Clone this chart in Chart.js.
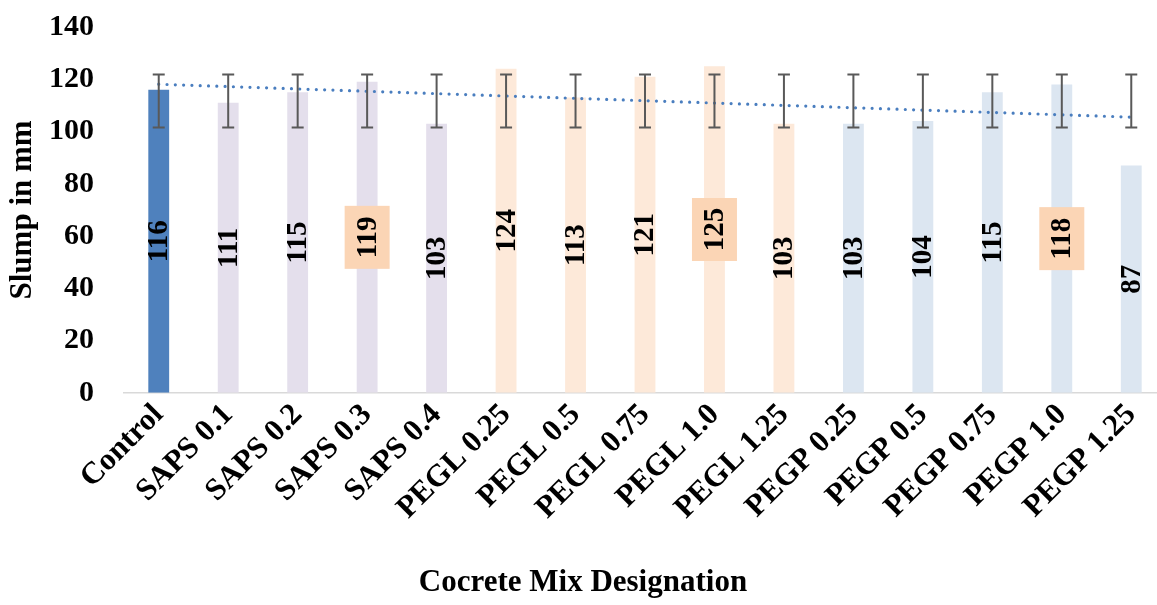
<!DOCTYPE html>
<html>
<head>
<meta charset="utf-8">
<script src="https://cdn.jsdelivr.net/npm/chart.js@4/dist/chart.umd.min.js"></script>
<style>
  html, body { margin: 0; padding: 0; background: #fff; overflow: hidden; }
  #chart-box { width: 1166px; height: 605px; }
</style>
</head>
<body>
<div id="chart-box"><canvas id="slump-chart"></canvas></div>
<script>
// values
const categories = [
  "Control", "SAPS 0.1", "SAPS 0.2", "SAPS 0.3", "SAPS 0.4",
  "PEGL 0.25", "PEGL 0.5", "PEGL 0.75", "PEGL 1.0", "PEGL 1.25",
  "PEGP 0.25", "PEGP 0.5", "PEGP 0.75", "PEGP 1.0", "PEGP 1.25",
];
const slump = [116, 111, 115, 119, 103, 124, 113, 121, 125, 103, 103, 104, 115, 118, 87];
const errLow = [101.5, 101.5, 101.5, 101.5, 101.5, 101.5, 101.5, 101.5, 101.5, 101.5, 101.5, 101.5, 101.5, 101.5, 101.5];
const errHigh = [121.8, 121.8, 121.8, 121.8, 121.8, 121.8, 121.8, 121.8, 121.8, 121.8, 121.8, 121.8, 121.8, 121.8, 121.8];
const trendStart = 118.1;
const trendEnd = 105.5;
const yTicks = [0, 20, 40, 60, 80, 100, 120, 140];

// styling
const FONT = "'Liberation Serif', 'Times New Roman', serif";
const highlighted = [3, 8, 13];

function barColor(label) {
  if (label === "Control") return "#4F81BD";
  if (label.startsWith("SAPS")) return "#E4DFEC";
  if (label.startsWith("PEGL")) return "#FDE9D9";
  return "#DCE6F1";
}

const trendData = categories.map((c, i) => {
  if (i === 0) return trendStart;
  if (i === categories.length - 1) return trendEnd;
  return null;
});

const errorBars = {
  id: "errorBars",
  afterDatasetsDraw(chart) {
    const ctx = chart.ctx;
    const y = chart.scales.y;
    const meta = chart.getDatasetMeta(1);
    ctx.save();
    ctx.strokeStyle = "#595959";
    ctx.lineWidth = 2;
    meta.data.forEach((bar, i) => {
      const top = y.getPixelForValue(errHigh[i]);
      const bot = y.getPixelForValue(errLow[i]);
      ctx.beginPath();
      ctx.moveTo(bar.x, top);
      ctx.lineTo(bar.x, bot);
      ctx.moveTo(bar.x - 6, top);
      ctx.lineTo(bar.x + 6, top);
      ctx.moveTo(bar.x - 6, bot);
      ctx.lineTo(bar.x + 6, bot);
      ctx.stroke();
    });
    ctx.restore();
  },
};

const barLabels = {
  id: "barLabels",
  afterDraw(chart) {
    const ctx = chart.ctx;
    const y = chart.scales.y;
    const meta = chart.getDatasetMeta(1);
    ctx.save();
    ctx.font = "bold 29px " + FONT;
    meta.data.forEach((bar, i) => {
      const cy = y.getPixelForValue(slump[i] / 2);
      if (highlighted.includes(i)) {
        ctx.fillStyle = "#FBD5B5";
        ctx.fillRect(bar.x - 22.5, cy - 31.5, 45, 63);
      }
      ctx.save();
      ctx.translate(bar.x + 1, cy);
      ctx.rotate(-Math.PI / 2);
      ctx.fillStyle = "#000";
      ctx.textAlign = "center";
      ctx.textBaseline = "middle";
      ctx.fillText(String(slump[i]), 0, 0);
      ctx.restore();
    });
    ctx.restore();
  },
};

const ctx = document.getElementById("slump-chart").getContext("2d");
new Chart(ctx, {
  type: "bar",
  data: {
    labels: categories,
    datasets: [
      {
        type: "line",
        label: "Linear trend",
        data: trendData,
        spanGaps: true,
        borderColor: "#4A7EBF",
        borderWidth: 3.2,
        borderDash: [0, 8.3],
        borderCapStyle: "round",
        pointRadius: 0,
        fill: false,
        order: 0,
      },
      {
        type: "bar",
        label: "Slump",
        data: slump,
        backgroundColor: categories.map(barColor),
        barPercentage: 0.3,
        categoryPercentage: 1,
        order: 1,
      },
    ],
  },
  options: {
    responsive: true,
    maintainAspectRatio: false,
    animation: false,
    layout: { padding: { top: 27, left: 0, right: 0, bottom: 0 } },
    plugins: {
      legend: { display: false },
      tooltip: { enabled: false },
      title: {
        display: true,
        position: "bottom",
        text: "Cocrete Mix Designation",
        color: "#000",
        font: { family: FONT, size: 31, weight: "bold" },
        padding: { top: 0, bottom: 3 },
      },
    },
    scales: {
      x: {
        afterFit: (axis) => {
          axis.height = 172;
          axis.paddingLeft = 0;
          axis.paddingRight = 0;
        },
        grid: { display: false, drawTicks: false },
        border: { display: true, color: "#D9D9D9", width: 1.5 },
        ticks: {
          color: "#000",
          font: { family: FONT, size: 31, weight: "bold" },
          minRotation: 45,
          maxRotation: 45,
          padding: 4,
          autoSkip: false,
        },
      },
      y: {
        min: 0,
        max: 140,
        afterBuildTicks: (axis) => {
          axis.ticks = yTicks.map(v => ({ value: v }));
        },
        afterFit: (axis) => {
          axis.width = 124;
          axis.paddingTop = 0;
          axis.paddingBottom = 0;
        },
        grid: { display: false, drawTicks: false },
        border: { display: false },
        ticks: {
          color: "#000",
          font: { family: FONT, size: 30, weight: "bold" },
          padding: 30,
        },
        title: {
          display: true,
          text: "Slump in mm",
          color: "#000",
          font: { family: FONT, size: 31, weight: "bold" },
          padding: { top: 4, bottom: 4 },
        },
      },
    },
  },
  plugins: [errorBars, barLabels],
});
</script>
</body>
</html>
